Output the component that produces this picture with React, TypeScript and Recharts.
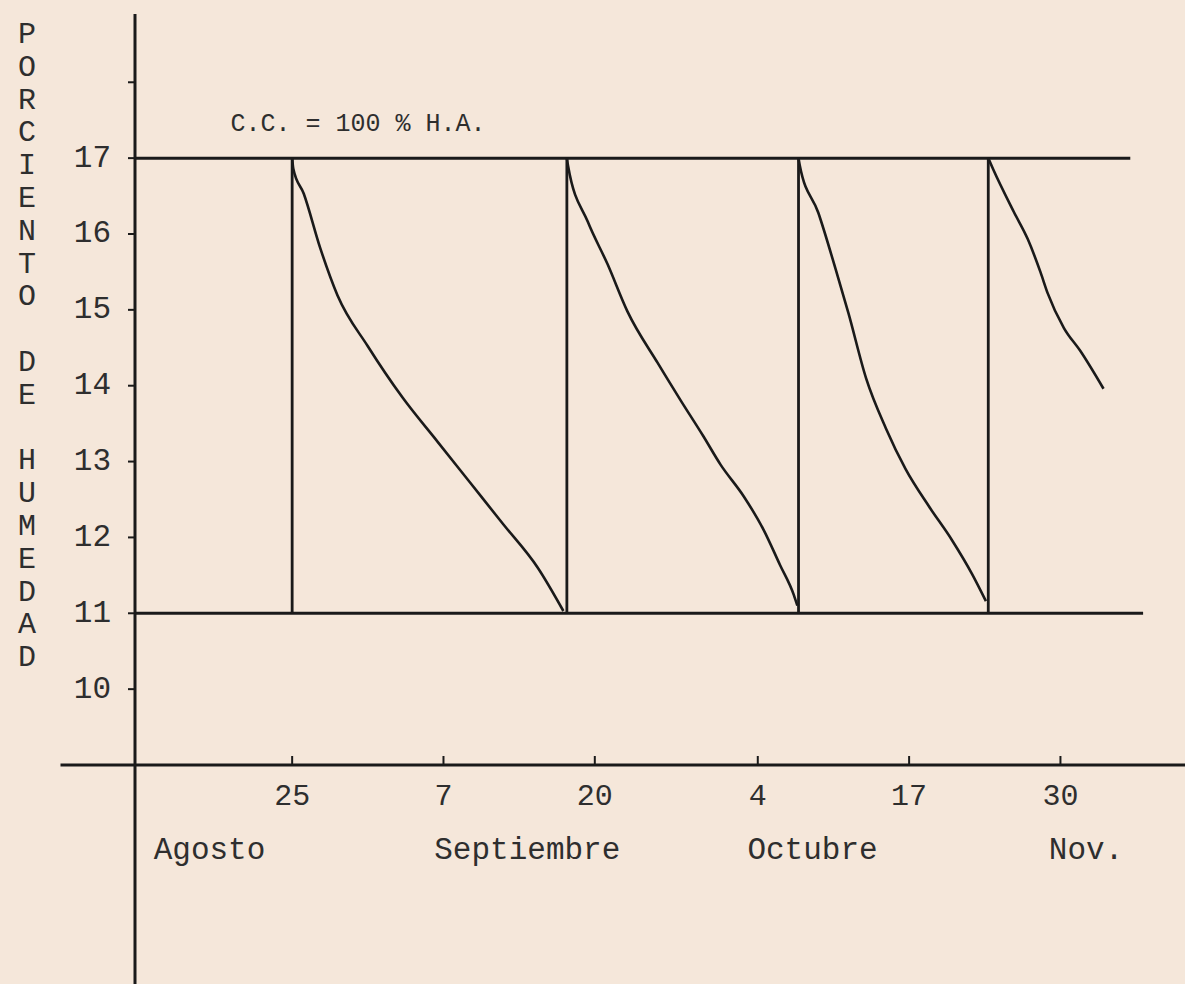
import React from "react";
import { LineChart, Line, XAxis, YAxis, ReferenceLine, ReferenceDot, Label } from "recharts";

// dias contados desde el 1 de agosto
const riegos = [24, 47.6, 67.5, 83.8];

const dias1 = [24.1, 25.0, 26.4, 27.9, 30.5, 33.5, 36.5, 39.3, 42.1, 45.1, 47.3];
const humedad1 = [16.86, 16.53, 15.82, 15.19, 14.52, 13.84, 13.26, 12.72, 12.18, 11.6, 11.03];
const dias2 = [47.7, 49.4, 51.1, 52.8, 55.4, 57.4, 59.3, 60.8, 62.8, 64.5, 65.9, 67.1, 67.4];
const humedad2 = [16.9, 16.16, 15.6, 14.98, 14.3, 13.8, 13.34, 12.96, 12.54, 12.1, 11.64, 11.24, 11.1];
const dias3 = [67.6, 69.2, 70.7, 71.8, 73.3, 75.0, 76.7, 78.7, 80.7, 82.4, 83.6];
const humedad3 = [16.91, 16.28, 15.53, 14.95, 14.1, 13.44, 12.9, 12.41, 11.96, 11.52, 11.16];
const dias4 = [84.2, 86.0, 87.2, 88.3, 88.9, 90.3, 91.7, 93.7];
const humedad4 = [16.86, 16.29, 15.93, 15.49, 15.22, 14.76, 14.46, 13.96];

const capacidadCampo = 17;
const limiteInferior = 11;

const xTicks = [24, 37, 50, 64, 77, 90];
const xTickLabels = ["25", "7", "20", "4", "17", "30"];
const meses = ["Agosto", "Septiembre", "Octubre", "Nov."];
const mesPos = [16.9, 44.2, 68.7, 92.2];
const yTicks = [10, 11, 12, 13, 14, 15, 16, 17, 18];
const tituloY = "PORCIENTO DE HUMEDAD";

const ciclos = [
  [dias1, humedad1],
  [dias2, humedad2],
  [dias3, humedad3],
  [dias4, humedad4],
];

// curva de secado de cada ciclo, desde la capacidad de campo
const curvas = ciclos.map(([d, h], i) => [
  { dia: riegos[i], humedad: capacidadCampo },
  ...d.map((x, j) => ({ dia: x, humedad: h[j] })),
]);

// trazos verticales de cada riego
const verticales = riegos.flatMap((d) => [
  { dia: d, humedad: limiteInferior },
  { dia: d, humedad: capacidadCampo },
  { dia: d, humedad: null },
]);

const tinta = "#1a1a1a";
const letra = "#2e2e2e";
const fuente = "'Liberation Mono', 'DejaVu Sans Mono', monospace";

const DayTick = ({ x, y, payload }: any) => {
  const label = xTickLabels[xTicks.indexOf(payload.value)];
  return (
    <g>
      <line x1={x} x2={x} y1={y - 1} y2={y - 9} stroke={tinta} strokeWidth={2} />
      <text x={x} y={y + 32} textAnchor="middle" dominantBaseline="central" fontSize={30} fontFamily={fuente} fill={letra}>
        {label}
      </text>
    </g>
  );
};

const MonthTick = ({ x, y, payload }: any) => (
  <text x={x} y={y + 35} textAnchor="middle" dominantBaseline="central" fontSize={31} fontFamily={fuente} fill={letra}>
    {meses[mesPos.indexOf(payload.value)]}
  </text>
);

const YTick = ({ x, y, payload }: any) => (
  <g>
    <line x1={x - 7} x2={x} y1={y} y2={y} stroke={tinta} strokeWidth={2} />
    {payload.value !== 18 && (
      <text x={x - 24} y={y} textAnchor="end" dominantBaseline="central" fontSize={31} fontFamily={fuente} fill={letra}>
        {payload.value}
      </text>
    )}
  </g>
);

const renderTituloY = () => (
  <text fontSize={30} fontFamily={fuente} fill={letra} textAnchor="middle" dominantBaseline="central">
    {tituloY.split("").map((c, i) => (
      <tspan key={i} x={27} y={35 + i * 32.8}>
        {c === " " ? "" : c}
      </tspan>
    ))}
  </text>
);

export default function App() {
  return (
    <div style={{ position: "absolute", left: 0, top: 0, width: 1185, height: 984, background: "#f5e7da" }}>
      <LineChart width={1185} height={984} data={verticales} margin={{ top: 14, right: 0, left: 0, bottom: 109 }}>
        <XAxis
          dataKey="dia"
          type="number"
          domain={[10.5, 100.7]}
          ticks={xTicks}
          interval={0}
          axisLine={false}
          tickLine={false}
          tickSize={0}
          tickMargin={0}
          height={50}
          tick={<DayTick />}
        />
        <XAxis
          xAxisId="mes"
          dataKey="dia"
          type="number"
          domain={[10.5, 100.7]}
          ticks={mesPos}
          interval={0}
          axisLine={false}
          tickLine={false}
          tickSize={0}
          tickMargin={0}
          height={60}
          tick={<MonthTick />}
        />
        <YAxis
          type="number"
          domain={[9, 18.9]}
          ticks={yTicks}
          interval={0}
          width={135}
          axisLine={false}
          tickLine={false}
          tickSize={0}
          tickMargin={0}
          tick={<YTick />}
          label={<Label content={renderTituloY} />}
        />
        <ReferenceLine
          segment={[{ x: 4.1, y: 9 }, { x: 100.7, y: 9 }]}
          ifOverflow="visible"
          stroke={tinta}
          strokeWidth={3}
        />
        <ReferenceLine
          segment={[{ x: 10.5, y: 18.9 }, { x: 10.5, y: 6.1 }]}
          ifOverflow="visible"
          stroke={tinta}
          strokeWidth={3}
        />
        <ReferenceLine
          segment={[{ x: 10.5, y: capacidadCampo }, { x: 96, y: capacidadCampo }]}
          ifOverflow="visible"
          stroke={tinta}
          strokeWidth={3}
        />
        <ReferenceLine
          segment={[{ x: 10.5, y: limiteInferior }, { x: 97.1, y: limiteInferior }]}
          ifOverflow="visible"
          stroke={tinta}
          strokeWidth={3}
        />
        <ReferenceDot
          x={18.7}
          y={17.47}
          r={0}
          ifOverflow="visible"
          label={{ value: "C.C. = 100 % H.A.", position: "right", offset: 0, fontSize: 25, fontFamily: fuente, fill: letra }}
        />
        <Line
          dataKey="humedad"
          type="linear"
          stroke={tinta}
          strokeWidth={2.8}
          dot={false}
          connectNulls={false}
          isAnimationActive={false}
        />
        {curvas.map((c, i) => (
          <Line
            key={i}
            data={c}
            dataKey="humedad"
            type="monotone"
            stroke={tinta}
            strokeWidth={2.6}
            dot={false}
            isAnimationActive={false}
          />
        ))}
      </LineChart>
    </div>
  );
}
